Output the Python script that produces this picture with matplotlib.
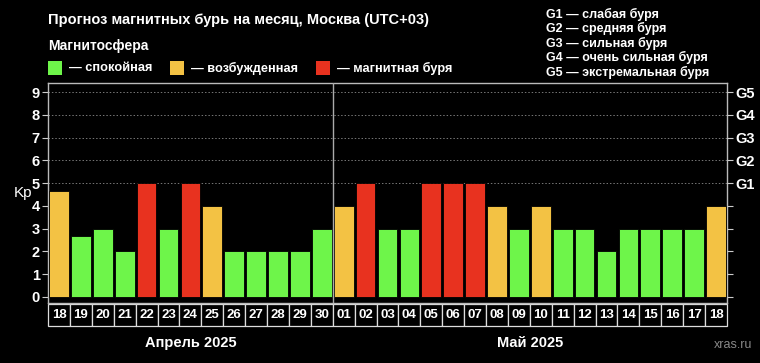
import matplotlib.pyplot as plt
from matplotlib.patches import Rectangle
import matplotlib.transforms as mtransforms

plt.rcParams['font.family'] = ['Liberation Sans', 'DejaVu Sans']
plt.rcParams['font.weight'] = 'bold'

# данные
days = ['18', '19', '20', '21', '22', '23', '24', '25', '26', '27', '28', '29', '30',
        '01', '02', '03', '04', '05', '06', '07', '08', '09', '10', '11', '12', '13',
        '14', '15', '16', '17', '18']
kp = [4.67, 2.67, 3, 2, 5, 3, 5, 4, 2, 2, 2, 2, 3,
      4, 5, 3, 3, 5, 5, 5, 4, 3, 4, 3, 3, 2, 3, 3, 3, 3, 4]
months = ['Апрель 2025', 'Май 2025']
month_len = [13, 18]
g_labels = ['G1', 'G2', 'G3', 'G4', 'G5']
g_text = ['G1 — слабая буря', 'G2 — средняя буря', 'G3 — сильная буря',
          'G4 — очень сильная буря', 'G5 — экстремальная буря']
legend_text = ['— спокойная', '— возбужденная', '— магнитная буря']

GREEN, YELLOW, RED = '#6EF54A', '#F3C244', '#E8321F'
legend_col = [GREEN, YELLOW, RED]


def kp_color(v):
    if v >= 5:
        return RED
    if v >= 4:
        return YELLOW
    return GREEN


fig = plt.figure(figsize=(7.6, 3.63), dpi=100, facecolor='black')
W, H = 760, 363
ax = fig.add_axes([48 / W, 1 - 303 / H, (727 - 48) / W, (303 - 83) / H])
ax.set_facecolor('black')

x = list(range(len(days)))
ax.bar(x, kp, width=0.9, color=[kp_color(v) for v in kp],
       edgecolor='black', linewidth=0.6, zorder=3)

ax.set_xlim(-0.5, len(days) - 0.5)
ax.set_ylim(-0.27, 9.4)
ax.set_xticks([])
ax.set_yticks(range(10))
ax.tick_params(axis='y', colors='#cccccc', length=4, width=0.8,
               labelcolor='white', labelsize=10.5, pad=2)
for s in ax.spines.values():
    s.set_color('#bbbbbb')
    s.set_linewidth(1)
for lv in range(5, 10):
    ax.axhline(lv, color='#777777', lw=0.7, ls=(0, (1.5, 2)), zorder=1)

ax.set_ylabel('Kp', color='white', fontsize=11, rotation=0, labelpad=6, va='center')

ax2 = ax.twinx()
ax2.set_ylim(ax.get_ylim())
ax2.set_yticks(range(10))
ax2.set_yticklabels([''] * 5 + g_labels)
ax2.tick_params(axis='y', colors='#cccccc', length=4, width=0.8,
                labelcolor='white', labelsize=10.5, pad=2)
for s in ax2.spines.values():
    s.set_visible(False)

# разделитель месяцев
ax.axvline(month_len[0] - 0.5, color='#aaaaaa', lw=1, zorder=4)

# ячейки с датами
trans = mtransforms.blended_transform_factory(ax.transData, ax.transAxes)
cell_h = 22 / 220
for i, d in enumerate(days):
    ax.add_patch(Rectangle((i - 0.5, -0.005 - cell_h), 1, cell_h, transform=trans,
                           facecolor='black', edgecolor='#dddddd', lw=0.9, clip_on=False))
    ax.text(i, -0.005 - cell_h / 2, d, transform=trans, ha='center', va='center',
            color='white', fontsize=9.5)

start = 0
for m, n in zip(months, month_len):
    ax.text(start + n / 2 - 0.5, -40 / 220, m, transform=trans, ha='center', va='center',
            color='white', fontsize=10.5)
    start += n

# заголовки и легенда
fig.text(48 / W, 1 - 20 / H, 'Прогноз магнитных бурь на месяц, Москва (UTC+03)',
         color='white', fontsize=10.5, va='center')
fig.text(48 / W, 1 - 46 / H, 'Магнитосфера', color='white', fontsize=10, va='center')
leg_x = [48, 170, 316]
for lx, c, t in zip(leg_x, legend_col, legend_text):
    fig.patches.append(Rectangle((lx / W, 1 - 75 / H), 14 / W, 14 / H,
                                 transform=fig.transFigure, facecolor=c, edgecolor='none'))
    fig.text((lx + 21) / W, 1 - 68 / H, t, color='white', fontsize=9.2, va='center')

for i, t in enumerate(g_text):
    fig.text(546 / W, 1 - (14 + i * 14.5) / H, t, color='white', fontsize=9, va='center')

fig.text(752 / W, 1 - 345 / H, 'xras.ru', color='#888888', fontsize=9, ha='right',
         va='center', weight='normal')

fig.savefig('out.png', dpi=100, facecolor='black')
